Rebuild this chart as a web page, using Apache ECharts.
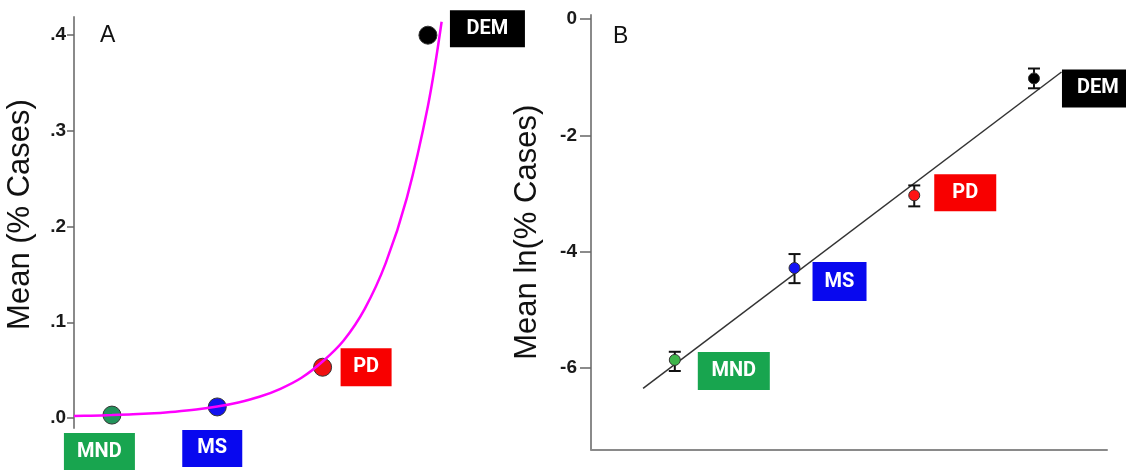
<!DOCTYPE html>
<html>
<head>
<meta charset="utf-8">
<script src="https://cdn.jsdelivr.net/npm/echarts@6/dist/echarts.min.js"></script>
<style>
html,body{margin:0;padding:0;background:#fff;}
#chart{width:1126px;height:470px;}
</style>
</head>
<body>
<div id="chart"></div>
<script>
// ---------- data ----------
const groups = ['MND', 'MS', 'PD', 'DEM'];
const groupX = [1, 2, 3, 4];
// Panel A: mean % cases
const meanPct = [0.003, 0.0115, 0.053, 0.400];
// Panel A: fitted exponential curve
const curveX = [0.64, 0.8, 1.0, 1.2, 1.4, 1.6, 1.8, 2.0, 2.2, 2.4, 2.6, 2.8, 3.0, 3.2, 3.4, 3.6, 3.8, 4.0, 4.13];
const curveY = [0.002, 0.0024, 0.0030, 0.0038, 0.0050, 0.0066, 0.0088, 0.0119, 0.0162, 0.0221, 0.0305, 0.042, 0.059, 0.081, 0.114, 0.162, 0.230, 0.326, 0.414];
// Panel B: mean ln(% cases) with error bars
const meanLn = [-5.86, -4.28, -3.03, -1.02];
const lnLow = [-6.05, -4.54, -3.22, -1.19];
const lnHigh = [-5.72, -4.04, -2.86, -0.85];
// Panel B: regression line end points
const fitX = [0.735, 4.23];
const fitY = [-6.35, -0.91];
// tick labels
const ticksA = [0, 0.1, 0.2, 0.3, 0.4];
const ticksB = [-6, -4, -2, 0];

// ---------- styles ----------
const labelColor = {MND: '#18a54f', MS: '#0808ef', PD: '#f80000', DEM: '#000000'};
const pointColorA = {MND: '#23935b', MS: '#1212ee', PD: '#f01010', DEM: '#000000'};
const pointColorB = {MND: '#3db54a', MS: '#1414f5', PD: '#ff1414', DEM: '#000000'};
const labelA = {
  MND: {offset: [-12.5, 37], w: 71, h: 38},
  MS:  {offset: [-5, 41.5], w: 60, h: 37},
  PD:  {offset: [43.5, 0], w: 51, h: 38},
  DEM: {offset: [59.5, -6.5], w: 75, h: 37}
};
const labelB = {
  MND: {offset: [59, 11], w: 72, h: 38},
  MS:  {offset: [45, 13.5], w: 54, h: 39},
  PD:  {offset: [51, -2.5], w: 62, h: 37},
  DEM: {offset: [64, 10], w: 72, h: 38}
};
function boxLabel(name, cfg) {
  return {
    show: true,
    position: 'inside',
    offset: cfg.offset,
    formatter: name,
    color: '#fff',
    opacity: 1,
    fontFamily: 'Roboto',
    fontWeight: 'bold',
    fontSize: 20,
    backgroundColor: labelColor[name],
    width: cfg.w,
    height: cfg.h,
    lineHeight: cfg.h,
    align: 'center',
    verticalAlign: 'middle'
  };
}

const axisGray = '#8a8a8a';
const tickFont = {fontFamily: 'Liberation Sans', fontSize: 19, fontWeight: 'bold', color: '#1a1a1a'};

const chart = echarts.init(document.getElementById('chart'), null, {renderer: 'canvas'});
const option = {
  backgroundColor: '#fff',
  animation: false,
  title: [
    {text: 'A', left: 95, top: 19, textStyle: {fontFamily: 'Liberation Sans', fontSize: 23, fontWeight: 'normal', color: '#111'}},
    {text: 'B', left: 608, top: 20, textStyle: {fontFamily: 'Liberation Sans', fontSize: 23, fontWeight: 'normal', color: '#111'}}
  ],
  grid: [
    {left: 74, top: 17, width: 375, height: 411},
    {left: 591, top: 15, width: 516, height: 434.5}
  ],
  xAxis: [
    {gridIndex: 0, type: 'value', min: 0.64, max: 4.2, show: false},
    {gridIndex: 1, type: 'value', min: 0.3, max: 4.61,
     axisLine: {show: true, onZero: false, lineStyle: {color: axisGray, width: 2}},
     axisTick: {show: false}, axisLabel: {show: false}, splitLine: {show: false}}
  ],
  yAxis: [
    {gridIndex: 0, type: 'value', min: -0.0105, max: 0.419,
     name: 'Mean (% Cases)', nameLocation: 'middle', nameGap: 38,
     nameTextStyle: {fontFamily: 'Liberation Sans', fontSize: 31, color: '#111', padding: [0, 0, 0, 16]},
     axisLine: {show: true, lineStyle: {color: axisGray, width: 2}},
     axisTick: {show: true, length: 7, customValues: ticksA, lineStyle: {color: '#666', width: 1.5}},
     axisLabel: Object.assign({margin: 8, customValues: ticksA,
       formatter: v => v.toFixed(1).replace(/^0/, '')}, tickFont),
     splitLine: {show: false}},
    {gridIndex: 1, type: 'value', min: -7.4, max: 0.07,
     name: 'Mean ln(% Cases)', nameLocation: 'middle', nameGap: 48,
     nameTextStyle: {fontFamily: 'Liberation Sans', fontSize: 31, color: '#111'},
     axisLine: {show: true, onZero: false, lineStyle: {color: axisGray, width: 2}},
     axisTick: {show: true, length: 11, customValues: ticksB, lineStyle: {color: '#666', width: 1.5}},
     axisLabel: Object.assign({margin: 14, customValues: ticksB, formatter: v => String(v)}, tickFont),
     splitLine: {show: false}}
  ],
  series: [
    {
      type: 'scatter', xAxisIndex: 0, yAxisIndex: 0, z: 2,
      symbolSize: 18,
      data: groups.map((g, i) => ({
        value: [groupX[i], meanPct[i]], name: g,
        itemStyle: {color: pointColorA[g], borderColor: '#333', borderWidth: 1, opacity: 1},
        label: boxLabel(g, labelA[g])
      }))
    },
    {
      type: 'line', xAxisIndex: 0, yAxisIndex: 0, z: 3,
      smooth: 0.35, showSymbol: false, symbol: 'none',
      lineStyle: {color: '#ff00ff', width: 2.5},
      data: curveX.map((x, i) => [x, curveY[i]])
    },
    {
      type: 'line', xAxisIndex: 1, yAxisIndex: 1, z: 2,
      showSymbol: false, symbol: 'none',
      lineStyle: {color: '#333', width: 1.5},
      data: fitX.map((x, i) => [x, fitY[i]])
    },
    {
      type: 'custom', xAxisIndex: 1, yAxisIndex: 1, z: 3,
      encode: {x: 0, y: [1, 2]},
      data: groups.map((g, i) => [groupX[i], lnLow[i], lnHigh[i]]),
      renderItem: function (params, api) {
        const x = api.value(0);
        const pLo = api.coord([x, api.value(1)]);
        const pHi = api.coord([x, api.value(2)]);
        const hw = 6;
        const st = {stroke: '#111', lineWidth: 2};
        return {
          type: 'group',
          children: [
            {type: 'line', shape: {x1: pLo[0], y1: pLo[1], x2: pHi[0], y2: pHi[1]}, style: st},
            {type: 'line', shape: {x1: pLo[0] - hw, y1: pLo[1], x2: pLo[0] + hw, y2: pLo[1]}, style: st},
            {type: 'line', shape: {x1: pHi[0] - hw, y1: pHi[1], x2: pHi[0] + hw, y2: pHi[1]}, style: st}
          ]
        };
      }
    },
    {
      type: 'scatter', xAxisIndex: 1, yAxisIndex: 1, z: 4,
      symbolSize: 11,
      data: groups.map((g, i) => ({
        value: [groupX[i], meanLn[i]], name: g,
        itemStyle: {color: pointColorB[g], borderColor: '#333', borderWidth: 1, opacity: 1},
        label: boxLabel(g, labelB[g])
      }))
    }
  ]
};
chart.setOption(option);
</script>
</body>
</html>
